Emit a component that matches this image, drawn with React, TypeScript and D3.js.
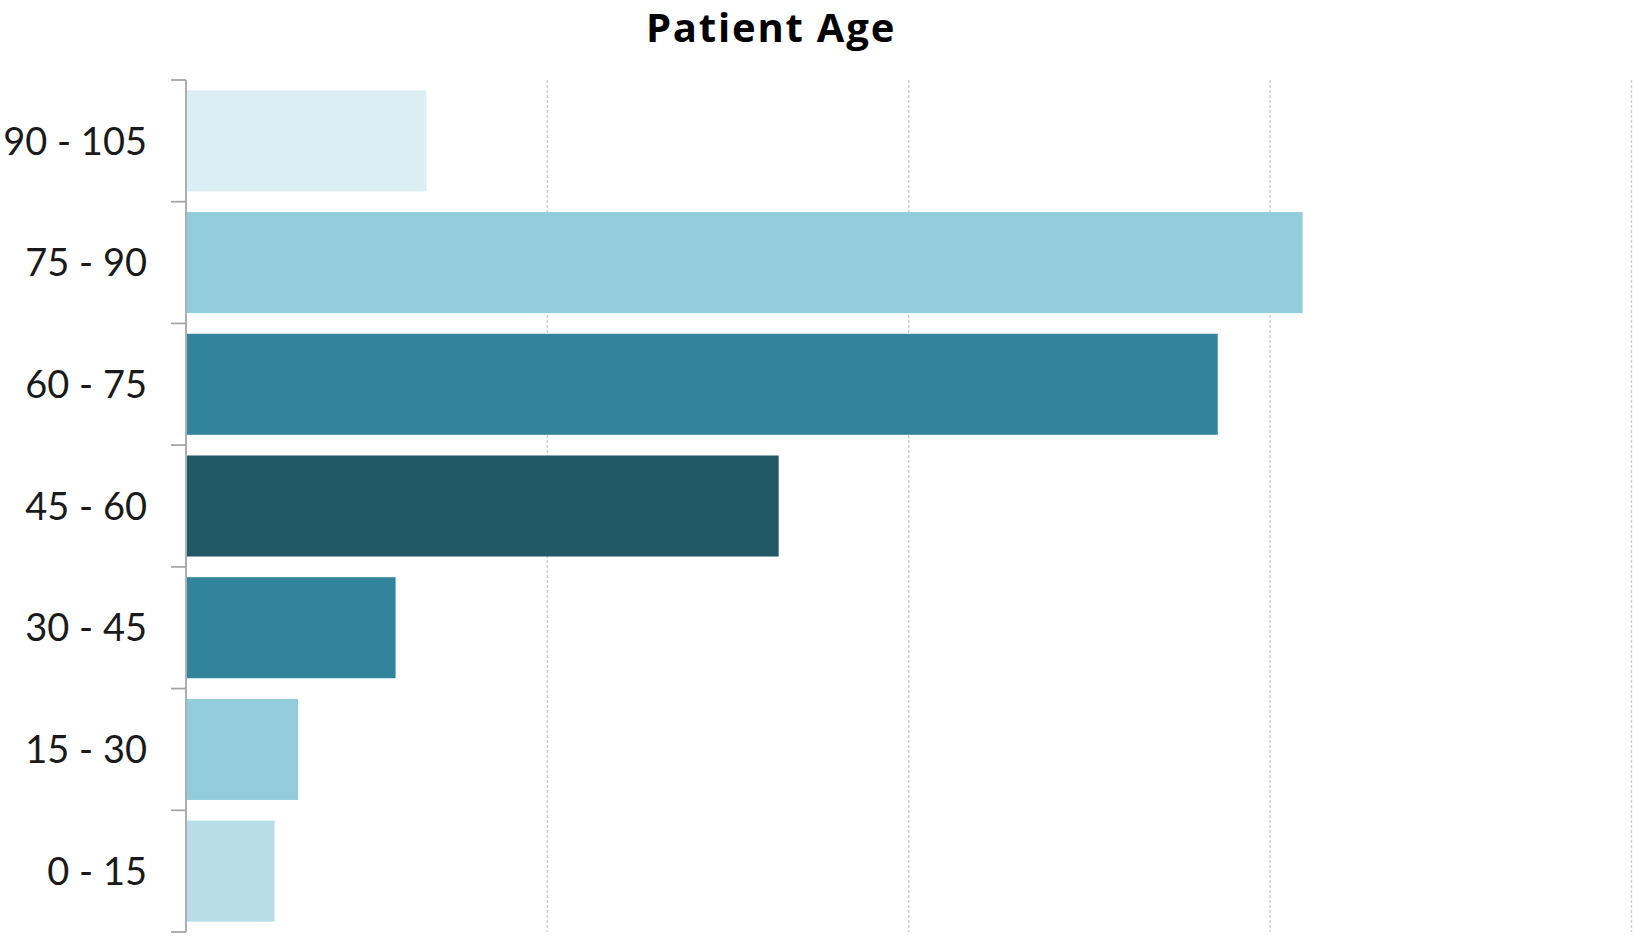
import React from "react";
import * as d3 from "d3";

// Age bands, listed bottom to top
const categories: string[] = ["0 - 15", "15 - 30", "30 - 45", "45 - 60", "60 - 75", "75 - 90", "90 - 105"];
const values: number[] = [4.9, 6.2, 11.6, 32.8, 57.1, 61.8, 13.3];
const barColors: string[] = ["#b7dee8", "#93cddd", "#31849b", "#215967", "#31849b", "#93cddd", "#dbeef4"];
const gridTicks: number[] = [20, 40, 60, 80];
const title = "Patient Age";

const W = 1633;
const H = 937;
const plot = { left: 186, right: 1631.5, top: 80, bottom: 932 };
const labelFont = "Lato, 'Open Sans', sans-serif";
const titleFont = "'Open Sans', Lato, sans-serif";

export default function App() {
  const x = d3.scaleLinear().domain([0, 80]).range([plot.left, plot.right]);
  // top band is the last category
  const y = d3
    .scaleBand<string>()
    .domain([...categories].reverse())
    .range([plot.top, plot.bottom])
    .paddingInner(0.17)
    .paddingOuter(0.085);
  const bandStep = (plot.bottom - plot.top) / categories.length;
  const tickYs = d3.range(categories.length + 1).map((i) => plot.top + i * bandStep);

  return (
    <svg
      width={W}
      height={H}
      style={{ position: "absolute", left: 0, top: 0, background: "#fff" }}
    >
      <text
        x={771}
        y={42}
        textAnchor="middle"
        fontFamily={titleFont}
        fontWeight={700}
        fontSize={40}
        letterSpacing={1.8}
        fill="#000"
      >
        {title}
      </text>

      {gridTicks.map((t) => (
        <line
          key={t}
          x1={x(t)}
          x2={x(t)}
          y1={plot.top}
          y2={plot.bottom}
          stroke="#d0d0d0"
          strokeWidth={1.5}
          strokeDasharray="3,2"
        />
      ))}

      {categories.map((c, i) => (
        <rect
          key={c}
          x={x(0) + 1}
          y={y(c)!}
          width={x(values[i]) - x(0) - 1}
          height={y.bandwidth()}
          fill={barColors[i]}
        />
      ))}

      <line x1={plot.left} x2={plot.left} y1={plot.top} y2={plot.bottom} stroke="#a6a6a6" strokeWidth={1.8} />
      {tickYs.map((ty, i) => (
        <line key={i} x1={171} x2={plot.left} y1={ty} y2={ty} stroke="#a6a6a6" strokeWidth={1.8} />
      ))}

      {categories.map((c) => (
        <text
          key={c}
          x={147}
          y={y(c)! + y.bandwidth() / 2}
          dy="0.36em"
          textAnchor="end"
          fontFamily={labelFont}
          fontSize={38}
          fill="#1a1a1a"
        >
          {c}
        </text>
      ))}
    </svg>
  );
}
